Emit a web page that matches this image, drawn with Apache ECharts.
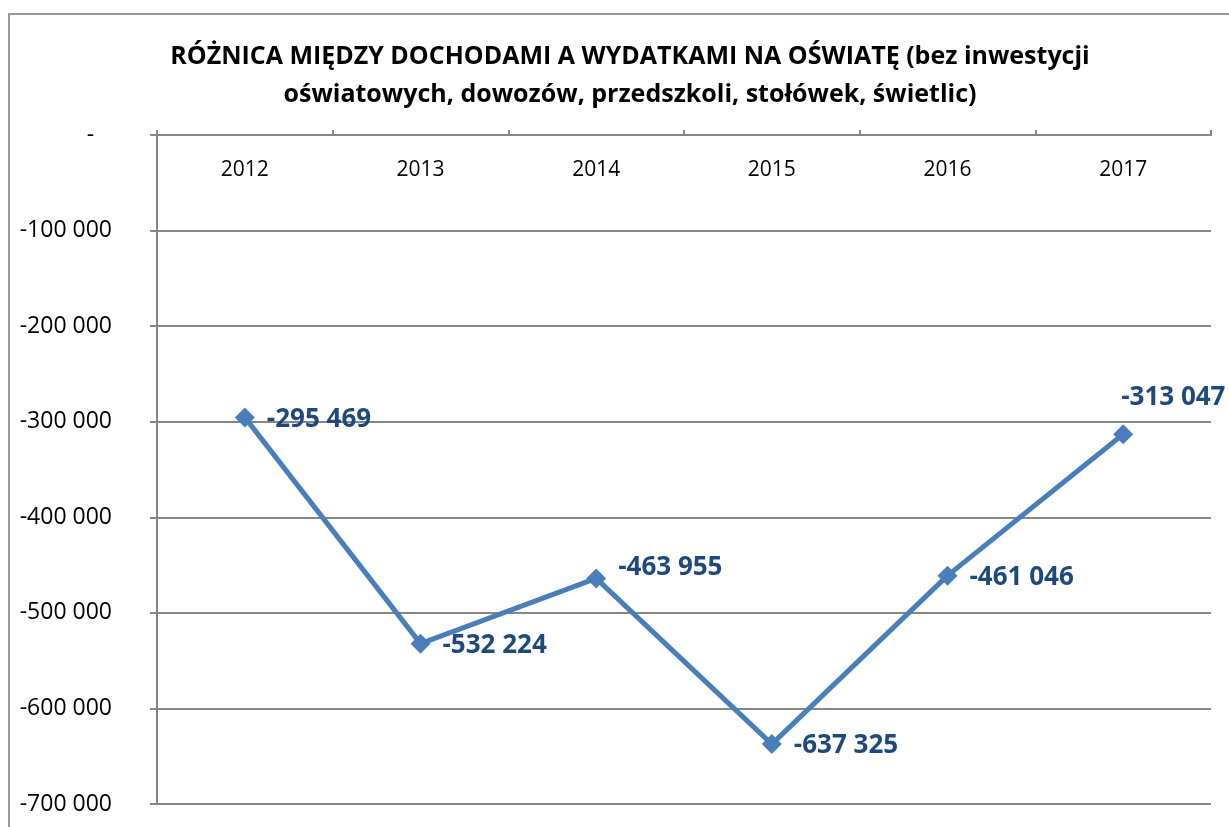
<!DOCTYPE html>
<html>
<head>
<meta charset="utf-8">
<script src="https://cdn.jsdelivr.net/npm/echarts@6/dist/echarts.min.js"></script>
<style>
  html, body { margin: 0; padding: 0; background: #fff; }
  #chart { width: 1229px; height: 827px; }
</style>
</head>
<body>
<div id="chart"></div>
<script>
const years = ['2012', '2013', '2014', '2015', '2016', '2017'];
const difference = [-295469, -532224, -463955, -637325, -461046, -313047];
// label nudges per point [dx, dy]
const labelOffsets = [[0, 2], [0, 2], [0, -11], [0, 1], [0, 2], [-24, -37]];

const titleLines = [
    'RÓŻNICA MIĘDZY DOCHODAMI A WYDATKAMI NA OŚWIATĘ (bez inwestycji',
    'oświatowych, dowozów, przedszkoli, stołówek, świetlic)'
];

const fmt = (v) => {
    if (v === 0) return '-   ';
    const s = Math.abs(v).toString().replace(/\B(?=(\d{3})+(?!\d))/g, ' ');
    return (v < 0 ? '-' : '') + s;
};

const chart = echarts.init(document.getElementById('chart'));

chart.setOption({
    animation: false,
    title: {
        text: titleLines.join('\n'),
        left: 625,
        textAlign: 'center',
        top: 33,
        textStyle: {
            fontFamily: 'Open Sans',
            fontWeight: 'bold',
            fontSize: 25,
            lineHeight: 38,
            color: '#000'
        }
    },
    graphic: [
        {
            type: 'rect',
            shape: { x: 9, y: 14, width: 1300, height: 900 },
            style: { fill: 'none', stroke: '#9a9a9a', lineWidth: 2 },
            silent: true
        }
    ],
    grid: { left: 157, right: 18, top: 135, bottom: 23 },
    xAxis: {
        type: 'category',
        position: 'top',
        data: years,
        boundaryGap: true,
        axisLine: { lineStyle: { color: '#868686', width: 2 } },
        axisTick: { show: true, length: 5, lineStyle: { color: '#868686', width: 2 } },
        axisLabel: {
            inside: true,
            margin: 25,
            color: '#000',
            fontFamily: 'Open Sans',
            fontSize: 21
        }
    },
    yAxis: {
        type: 'value',
        min: -700000,
        max: 0,
        interval: 100000,
        axisLine: { show: true, lineStyle: { color: '#868686', width: 2 } },
        axisTick: { show: true, length: 7, lineStyle: { color: '#868686', width: 2 } },
        splitLine: { show: true, lineStyle: { color: '#868686', width: 2 } },
        axisLabel: {
            margin: 45,
            color: '#000',
            fontFamily: 'Open Sans',
            fontSize: 23,
            formatter: fmt
        }
    },
    series: [
        {
            type: 'line',
            data: difference.map((v, i) => ({
                value: v,
                label: { offset: labelOffsets[i] }
            })),
            symbol: 'diamond',
            symbolSize: 20,
            itemStyle: { color: '#4A7EBB' },
            lineStyle: { color: '#4A7EBB', width: 5 },
            label: {
                show: true,
                position: 'right',
                distance: 12,
                color: '#1F497D',
                fontFamily: 'Open Sans',
                fontWeight: 'bold',
                fontSize: 26,
                formatter: (p) => fmt(p.value)
            }
        }
    ]
});
</script>
</body>
</html>
